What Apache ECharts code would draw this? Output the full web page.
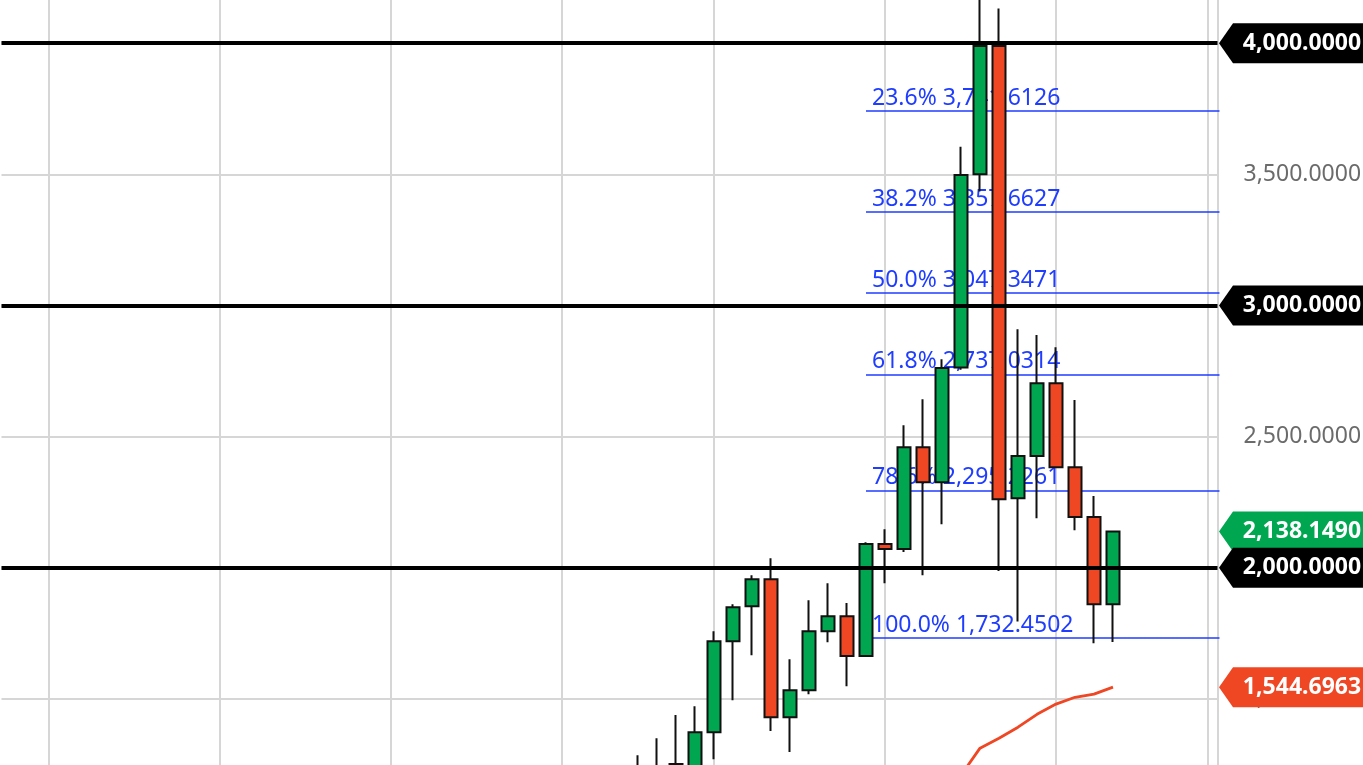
<!DOCTYPE html>
<html>
<head>
<meta charset="utf-8">
<script src="https://cdn.jsdelivr.net/npm/echarts@6/dist/echarts.min.js"></script>
<style>
  html, body { margin: 0; padding: 0; background: #ffffff; width: 1363px; height: 765px; overflow: hidden; position: relative; }
  /* the chart canvas is taller than the window: the value range 1,000–4,500 is laid out
     so that only the visible slice of the reference shows in the 1363x765 window */
  #chart { position: absolute; left: 0; top: -88px; width: 1363px; height: 918px; }
</style>
</head>
<body>
<div id="chart"></div>
<script>
// ---------------- DATA ----------------
const CATEGORY_COUNT = 64;
const CATEGORIES = Array.from({ length: CATEGORY_COUNT }, (_, i) => 'P' + (i + 1));

// first candle index in CATEGORIES
const CANDLE_START = 33;
// [open, close, low, high]
const CANDLES = [
  [1180, 1225, 1120, 1285],
  [1225, 1240, 1160, 1350],
  [1200, 1252, 1180, 1438],
  [1240, 1373, 1220, 1472],
  [1373, 1720, 1270, 1758],
  [1720, 1849, 1495, 1861],
  [1853, 1956, 1666, 1971],
  [1956, 1430, 1377, 2036],
  [1430, 1533, 1297, 1651],
  [1533, 1758, 1518, 1876],
  [1758, 1815, 1716, 1941],
  [1815, 1663, 1548, 1865],
  [1663, 2090, 1660, 2097],
  [2090, 2071, 1941, 2147],
  [2071, 2459, 2060, 2543],
  [2459, 2326, 1971, 2642],
  [2326, 2761, 2166, 2795],
  [2763, 3497, 2755, 3605],
  [3500, 3989, 3434, 4300],
  [3989, 2261, 1987, 4132],
  [2265, 2426, 1795, 2909],
  [2426, 2703, 2189, 2887],
  [2703, 2383, 2380, 2841],
  [2383, 2193, 2143, 2639],
  [2193, 1861, 1712, 2273],
  [1861, 2138.149, 1717, 2138.149]
];

// moving average (red line)
const MA_START = 49;
const MA_VALUES = [1100, 1209, 1312, 1350, 1392, 1441, 1480, 1506, 1518, 1544.6963];

// Fibonacci retracement
const FIB_START_INDEX = 45;
const FIB_RATIOS = ['23.6%', '38.2%', '50.0%', '61.8%', '78.6%', '100.0%'];
const FIB_PRICES = [3741.6126, 3357.6627, 3047.3471, 2737.0314, 2295.2261, 1732.4502];

// horizontal key levels
const KEY_LEVELS = [2000, 3000, 4000];

// vertical grid lines (category indices)
const VGRID_INDICES = [2, 11, 20, 29, 37, 46, 55, 63];

// y axis ticks
const Y_MIN = 1000, Y_MAX = 4500, Y_STEP = 500;

// ---------------- LAYOUT / STYLE ----------------
const GRID_LEFT = 1.5;
const GRID_RIGHT = 145.5;
const PLOT_RIGHT_PX = 1363 - GRID_RIGHT;
const TAG_W = 160, TAG_H = 40;
const TAG_X = PLOT_RIGHT_PX + 1.5 + TAG_W / 2;

const GREEN = '#00A650';
const RED = '#EF4623';
const BLUE = '#1F3DFF';
const GRID_GRAY = '#d6d6d6';
const FONT = '"Noto Sans", "Open Sans", sans-serif';

function fmt(v) {
  return Number(v).toLocaleString('en-US', { minimumFractionDigits: 4, maximumFractionDigits: 4 });
}

// ---------------- BUILD ----------------
const candleData = CATEGORIES.map((c, i) => {
  const k = i - CANDLE_START;
  return (k >= 0 && k < CANDLES.length) ? CANDLES[k] : ['-', '-', '-', '-'];
});
const maData = CATEGORIES.map((c, i) => {
  const k = i - MA_START;
  return (k >= 0 && k < MA_VALUES.length) ? MA_VALUES[k] : '-';
});
const lastIdx = CANDLE_START + CANDLES.length - 1;
const lastClose = CANDLES[CANDLES.length - 1][1];
const lastMA = MA_VALUES[MA_VALUES.length - 1];

const underLines = [];
VGRID_INDICES.forEach(i => {
  underLines.push({
    xAxis: CATEGORIES[i],
    lineStyle: { color: GRID_GRAY, width: 2, type: 'solid' },
    label: { show: false }
  });
});
FIB_PRICES.forEach((p, j) => {
  underLines.push([
    {
      coord: [CATEGORIES[FIB_START_INDEX], p],
      lineStyle: { color: BLUE, width: 1.5, type: 'solid' },
      label: {
        show: true,
        position: 'insideStartTop',
        distance: [6, 1],
        formatter: FIB_RATIOS[j] + ' ' + fmt(p),
        color: BLUE,
        fontSize: 23,
        fontFamily: FONT
      }
    },
    { coord: [CATEGORIES[CATEGORY_COUNT - 1], p], x: PLOT_RIGHT_PX + 2 }
  ]);
});

const tagPath = 'path://M0,20L14,0L160,0L160,40L14,40Z';
function tag(value, color) {
  return {
    coord: [CATEGORIES[lastIdx], value],
    x: TAG_X,
    value: value,
    symbol: tagPath,
    symbolSize: [TAG_W, TAG_H],
    itemStyle: { color: color },
    label: {
      show: true,
      position: 'inside',
      offset: [3, 0],
      formatter: fmt(value),
      color: '#ffffff',
      fontSize: 23,
      fontWeight: 'bold',
      fontFamily: FONT
    }
  };
}

const option = {
  animation: false,
  backgroundColor: '#ffffff',
  textStyle: { fontFamily: FONT },
  grid: {
    left: GRID_LEFT, right: GRID_RIGHT, top: 0, bottom: 0,
    containLabel: false,
    outerBoundsMode: 'none'
  },
  xAxis: {
    type: 'category',
    data: CATEGORIES,
    boundaryGap: true,
    axisLine: { show: false },
    axisTick: { show: false },
    axisLabel: { show: false },
    splitLine: { show: false }
  },
  yAxis: {
    type: 'value',
    position: 'right',
    min: Y_MIN,
    max: Y_MAX,
    interval: Y_STEP,
    axisLine: { show: true, lineStyle: { color: GRID_GRAY, width: 2 } },
    axisTick: { show: false },
    axisLabel: {
      show: true,
      margin: 26,
      color: '#6b6b6b',
      fontSize: 23,
      fontFamily: FONT,
      formatter: v => fmt(v)
    },
    splitLine: { show: true, lineStyle: { color: GRID_GRAY, width: 2 } }
  },
  series: [
    {
      type: 'candlestick',
      name: 'Price',
      z: 3,
      data: candleData,
      barWidth: 13,
      itemStyle: {
        color: GREEN,
        color0: RED,
        borderColor: '#111111',
        borderColor0: '#111111',
        borderWidth: 2
      },
      markLine: {
        z: 1,
        silent: true,
        symbol: ['none', 'none'],
        animation: false,
        data: underLines
      }
    },
    {
      type: 'line',
      name: 'MA',
      z: 4,
      data: maData,
      showSymbol: false,
      symbol: 'none',
      lineStyle: { color: RED, width: 2.8 },
      markLine: {
        z: 6,
        silent: true,
        symbol: ['none', 'none'],
        animation: false,
        data: KEY_LEVELS.map(v => ({
          yAxis: v,
          lineStyle: { color: '#000000', width: 4, type: 'solid' },
          label: { show: false }
        }))
      },
      markPoint: {
        z: 10,
        silent: true,
        animation: false,
        data: [
          tag(KEY_LEVELS[2], '#000000'),
          tag(KEY_LEVELS[1], '#000000'),
          tag(lastClose, GREEN),
          tag(KEY_LEVELS[0], '#000000'),
          tag(lastMA, RED)
        ]
      }
    }
  ]
};

const chart = echarts.init(document.getElementById('chart'), null, { renderer: 'canvas' });
chart.setOption(option);
</script>
</body>
</html>
